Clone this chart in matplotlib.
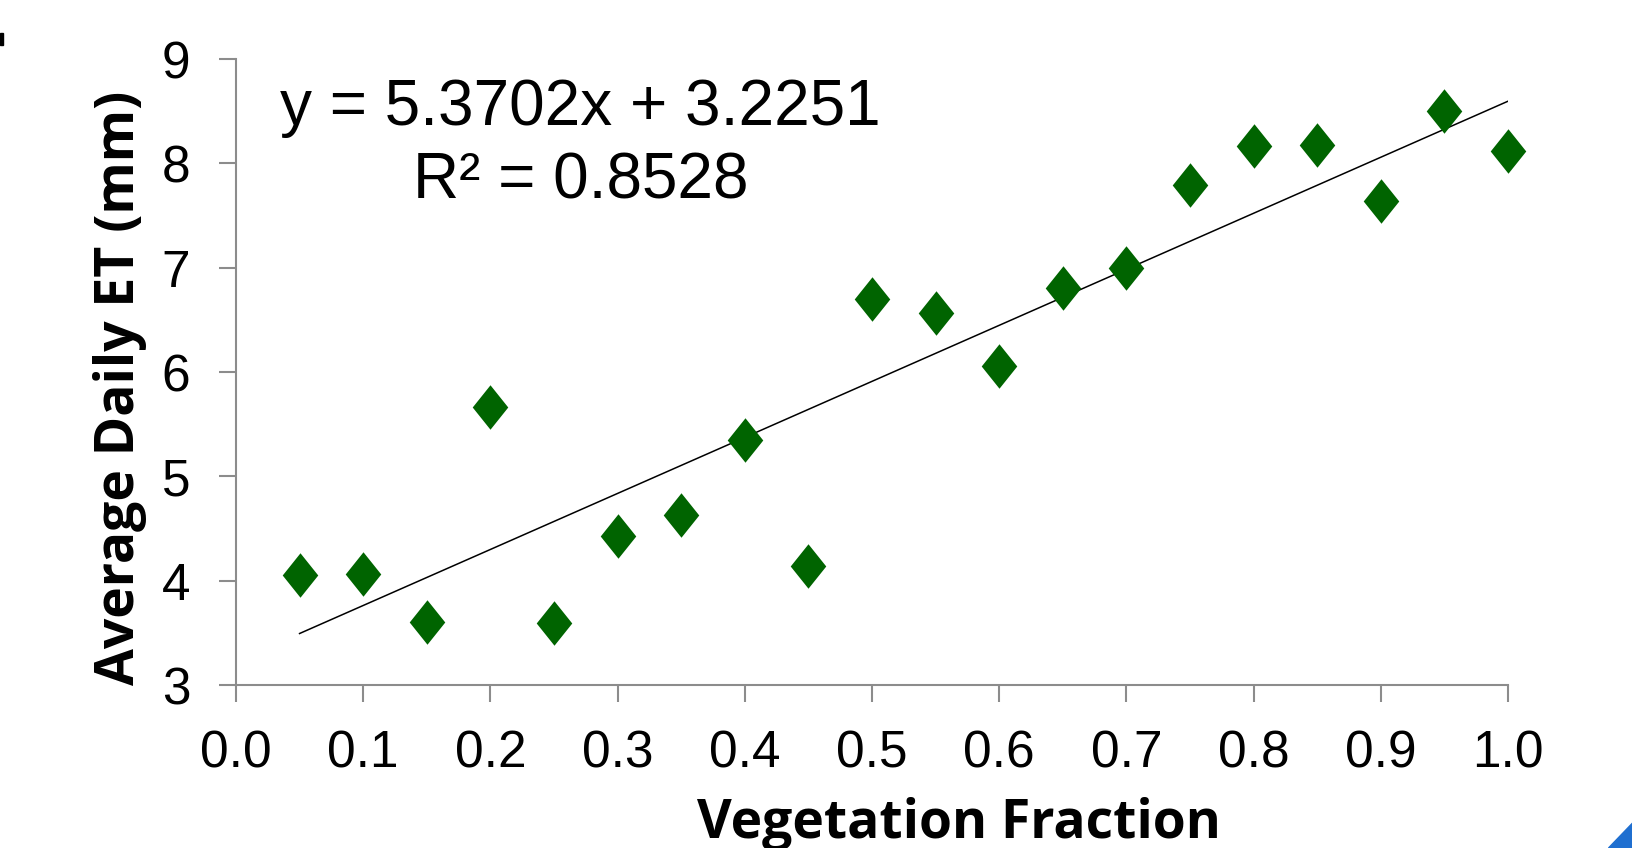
import numpy as np
import matplotlib.pyplot as plt
from matplotlib.patches import Polygon, Rectangle

# datos
veg_frac = [0.05, 0.10, 0.15, 0.20, 0.25, 0.30, 0.35, 0.40, 0.45, 0.50,
            0.55, 0.60, 0.65, 0.70, 0.75, 0.80, 0.85, 0.90, 0.95, 1.00]
et_mm = [4.05, 4.06, 3.60, 5.66, 3.59, 4.43, 4.63, 5.35, 4.14, 6.70,
         6.57, 6.06, 6.81, 7.00, 7.79, 8.17, 8.18, 7.64, 8.50, 8.12]

# recta de tendencia (ecuacion del grafico)
slope = 5.3702
intercept = 3.2251
r2 = 0.8528

plt.rcParams['font.family'] = ['Liberation Sans', 'DejaVu Sans']

fig = plt.figure(figsize=(16.33, 8.48), dpi=100)
ax = fig.add_axes([0.1445, 0.1922, 0.9234 - 0.1445, 0.9304 - 0.1922])

diamond = [(0, 1), (0.8, 0), (0, -1), (-0.8, 0), (0, 1)]
ax.plot(veg_frac, et_mm, linestyle='none', marker=diamond, markersize=32,
        color='#006400', markeredgewidth=0, zorder=3, clip_on=False)

xt = np.array([veg_frac[0], veg_frac[-1]])
ax.plot(xt, slope * xt + intercept, color='black', linewidth=1.1, zorder=2)

ax.set_xlim(0, 1.0)
ax.set_ylim(3, 9)
ax.set_xticks(np.arange(0, 1.01, 0.1))
ax.set_xticklabels(['%.1f' % v for v in np.arange(0, 1.01, 0.1)])
ax.set_yticks(range(3, 10))

for s in ['top', 'right']:
    ax.spines[s].set_visible(False)
for s in ['left', 'bottom']:
    ax.spines[s].set_color('#8c8c8c')
    ax.spines[s].set_linewidth(1.5)
ax.tick_params(axis='both', colors='#8c8c8c', length=12, width=1.5,
               labelsize=37, labelcolor='black')
ax.tick_params(axis='x', pad=20)
ax.tick_params(axis='y', pad=21)

# titulos de ejes (desplazados como en el original)
fig.text(0.5875, 0.0118, 'Vegetation Fraction', family=['Open Sans', 'DejaVu Sans'],
         fontweight='bold', fontsize=38.5, ha='center', va='baseline')
fig.text(0.0735, 0.543, 'Average Daily ET (mm)', family=['Open Sans', 'DejaVu Sans'],
         fontweight='bold', fontsize=38.5, ha='center', va='center', rotation=90)

ax.text(0.271, 0.922, 'y = 5.3702x + 3.2251', transform=ax.transAxes,
        fontsize=46, ha='center', va='center')
ax.text(0.271, 0.805, 'R² = %.4f' % r2, transform=ax.transAxes,
        fontsize=46, ha='center', va='center')

# restos de recorte en las esquinas
fig.patches.append(Rectangle((0, 1 - 45 / 848), 3 / 1633, 12 / 848,
                             transform=fig.transFigure, color='black'))
fig.patches.append(Polygon([[1.0, 0.0], [0.985, 0.0], [1.0, 0.03]], closed=True,
                           transform=fig.transFigure, color='#1f6fd0'))

fig.savefig('out.png', dpi=100)
